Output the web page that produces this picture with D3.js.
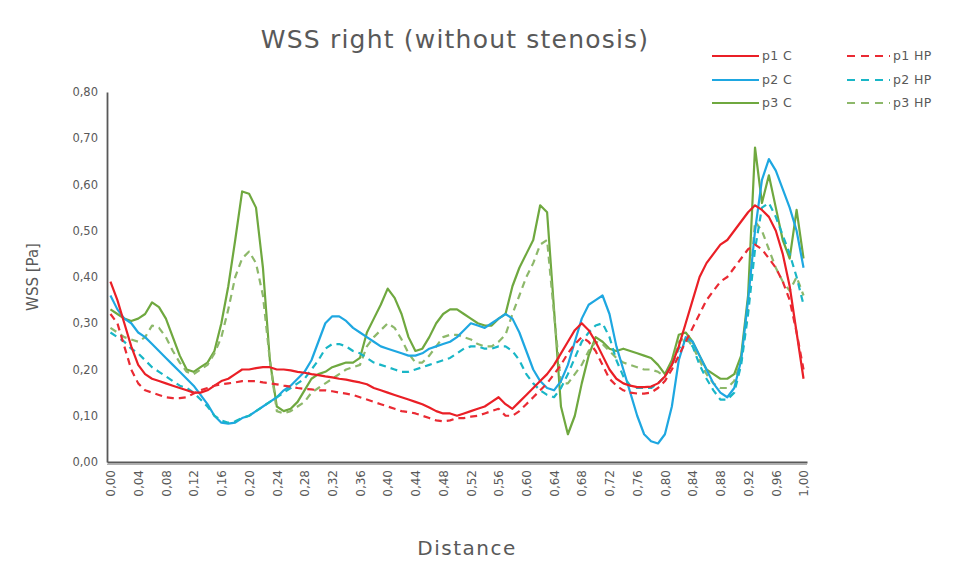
<!DOCTYPE html>
<html><head><meta charset="utf-8">
<script src="https://cdn.jsdelivr.net/npm/d3@7"></script>
<style>body{margin:0;background:#fff}svg{display:block}</style>
</head><body>
<svg id="c" width="971" height="562"></svg>
<script>
const distances = d3.range(101).map(i => +(i/100).toFixed(2));
const yTicks = [0,0.1,0.2,0.3,0.4,0.5,0.6,0.7,0.8];
const seriesNames = ["p1 C","p1 HP","p2 C","p2 HP","p3 C","p3 HP"];

const p1C = [0.39,0.35,0.30,0.25,0.21,0.19,0.18,0.175,0.17,0.165,0.16,0.155,0.15,0.15,0.155,0.165,0.175,0.18,0.19,0.20,
0.20,0.203,0.205,0.205,0.20,0.20,0.198,0.195,0.193,0.19,0.188,0.185,0.183,0.18,0.178,0.175,0.172,0.168,0.16,0.155,
0.15,0.145,0.14,0.135,0.13,0.125,0.118,0.11,0.105,0.105,0.10,0.105,0.11,0.115,0.12,0.13,0.14,0.125,0.115,0.13,
0.145,0.16,0.175,0.19,0.21,0.235,0.26,0.285,0.30,0.285,0.26,0.23,0.20,0.18,0.17,0.165,0.162,0.162,0.163,0.17,
0.185,0.21,0.25,0.30,0.35,0.40,0.43,0.45,0.47,0.48,0.50,0.52,0.54,0.555,0.545,0.53,0.50,0.45,0.38,0.28,0.18];
const p1HP = [0.32,0.30,0.25,0.20,0.17,0.155,0.15,0.145,0.14,0.138,0.138,0.14,0.148,0.155,0.16,0.165,0.168,0.17,0.172,0.175,
0.175,0.175,0.172,0.17,0.168,0.165,0.163,0.16,0.158,0.157,0.155,0.155,0.153,0.15,0.148,0.145,0.14,0.135,0.13,0.125,
0.12,0.115,0.11,0.108,0.105,0.10,0.095,0.09,0.088,0.09,0.095,0.095,0.098,0.10,0.105,0.11,0.115,0.10,0.10,0.11,
0.125,0.14,0.155,0.17,0.19,0.21,0.235,0.255,0.27,0.26,0.24,0.21,0.18,0.165,0.155,0.15,0.148,0.148,0.15,0.16,
0.175,0.20,0.23,0.26,0.29,0.32,0.35,0.37,0.39,0.40,0.42,0.44,0.46,0.47,0.46,0.44,0.42,0.39,0.35,0.28,0.20];
const p2C = [0.36,0.33,0.31,0.30,0.28,0.27,0.255,0.24,0.225,0.21,0.195,0.18,0.165,0.145,0.125,0.10,0.085,0.083,0.085,0.095,
0.10,0.11,0.12,0.13,0.14,0.155,0.165,0.18,0.195,0.22,0.26,0.30,0.315,0.315,0.305,0.29,0.28,0.27,0.26,0.25,
0.245,0.24,0.235,0.23,0.23,0.235,0.245,0.25,0.255,0.26,0.27,0.285,0.30,0.295,0.29,0.30,0.31,0.32,0.31,0.28,
0.24,0.20,0.175,0.16,0.155,0.175,0.21,0.26,0.31,0.34,0.35,0.36,0.32,0.25,0.20,0.15,0.10,0.06,0.045,0.04,
0.06,0.12,0.22,0.27,0.26,0.23,0.20,0.17,0.15,0.14,0.16,0.22,0.35,0.50,0.61,0.655,0.63,0.59,0.55,0.50,0.42];
const p2HP = [0.28,0.27,0.26,0.245,0.235,0.22,0.205,0.195,0.185,0.175,0.165,0.16,0.15,0.135,0.12,0.10,0.09,0.085,0.088,0.095,
0.10,0.11,0.12,0.13,0.14,0.15,0.16,0.17,0.18,0.20,0.22,0.245,0.255,0.255,0.25,0.24,0.235,0.225,0.215,0.21,
0.205,0.20,0.195,0.195,0.20,0.205,0.21,0.215,0.22,0.225,0.235,0.245,0.25,0.25,0.245,0.245,0.25,0.25,0.24,0.22,
0.19,0.17,0.155,0.145,0.14,0.16,0.19,0.225,0.26,0.28,0.295,0.30,0.27,0.22,0.185,0.165,0.16,0.16,0.16,0.17,
0.185,0.21,0.245,0.265,0.25,0.21,0.18,0.155,0.135,0.135,0.15,0.21,0.32,0.46,0.55,0.56,0.53,0.49,0.45,0.40,0.34];
const p3C = [0.33,0.32,0.31,0.305,0.31,0.32,0.345,0.335,0.31,0.27,0.23,0.20,0.195,0.205,0.215,0.24,0.30,0.38,0.48,0.585,
0.58,0.55,0.42,0.22,0.12,0.11,0.115,0.13,0.155,0.18,0.19,0.195,0.205,0.21,0.215,0.215,0.225,0.28,0.31,0.34,
0.375,0.355,0.32,0.27,0.24,0.245,0.27,0.30,0.32,0.33,0.33,0.32,0.31,0.30,0.295,0.295,0.31,0.32,0.38,0.42,
0.45,0.48,0.555,0.54,0.33,0.12,0.06,0.10,0.17,0.23,0.27,0.26,0.245,0.24,0.245,0.24,0.235,0.23,0.225,0.21,
0.19,0.22,0.275,0.28,0.26,0.23,0.20,0.19,0.18,0.18,0.19,0.23,0.36,0.68,0.56,0.62,0.55,0.48,0.44,0.545,0.44];
const p3HP = [0.29,0.28,0.27,0.265,0.26,0.27,0.295,0.29,0.27,0.24,0.215,0.195,0.19,0.20,0.21,0.235,0.27,0.33,0.40,0.44,
0.455,0.43,0.36,0.22,0.11,0.105,0.11,0.12,0.13,0.15,0.16,0.17,0.18,0.19,0.20,0.205,0.21,0.25,0.27,0.285,
0.30,0.29,0.265,0.235,0.215,0.215,0.23,0.25,0.27,0.275,0.275,0.27,0.265,0.255,0.25,0.25,0.26,0.275,0.32,0.36,
0.40,0.43,0.47,0.48,0.32,0.17,0.17,0.19,0.21,0.24,0.26,0.255,0.24,0.225,0.215,0.21,0.205,0.20,0.20,0.195,
0.185,0.21,0.26,0.27,0.25,0.22,0.19,0.17,0.16,0.16,0.175,0.22,0.33,0.52,0.50,0.46,0.42,0.39,0.37,0.40,0.36];

const seriesValues = [p1C,p1HP,p2C,p2HP,p3C,p3HP];
const seriesColors = ["#ea1f26","#ea2a33","#1ea7e1","#19b6c6","#6fa83f","#8db86a"];
const seriesDashed = [false,true,false,true,false,true];

const svg = d3.select("#c");
const font = "'DejaVu Sans', sans-serif";
const grey = "#595959";

const x = d3.scalePoint().domain(distances).range([107, 807]).padding(0.5);
const y = d3.scaleLinear().domain([0, 0.8]).range([462, 92]);
const fmt = d => d.toFixed(2).replace(".", ",");

// lines
const line = d3.line().x((d,i) => x(distances[i])).y(d => y(d));
const order = [4,5,2,3,0,1];
order.forEach(k => {
  svg.append("path").datum(seriesValues[k])
    .attr("fill","none").attr("stroke",seriesColors[k])
    .attr("stroke-width",2.2).attr("stroke-linejoin","round")
    .attr("stroke-dasharray",seriesDashed[k] ? "7,5" : null)
    .attr("d",line);
});

// y axis
const yAxis = d3.axisLeft(y).tickValues(yTicks).tickFormat(fmt).tickSize(0).tickPadding(9);
const gy = svg.append("g").attr("transform","translate(107,0)").call(yAxis);
gy.select(".domain").attr("stroke",grey).attr("stroke-width",1.8);
gy.selectAll("text").attr("font-family",font).attr("font-size",11.5).attr("fill",grey);

// x axis
const xAxis = d3.axisBottom(x).tickValues(distances.filter((d,i)=>i%4===0)).tickFormat(fmt).tickSize(0).tickPadding(0);
const gx = svg.append("g").attr("transform","translate(0,462)").call(xAxis);
gx.select(".domain").attr("stroke",grey).attr("stroke-width",2.2);
gx.selectAll("text").attr("font-family",font).attr("font-size",12).attr("fill",grey)
  .attr("transform","rotate(-90)").attr("text-anchor","end").attr("dy","0.35em").attr("x",-8).attr("y",0);
svg.append("line").attr("x1",107).attr("x2",807).attr("y1",464.5).attr("y2",464.5).attr("stroke","#b0b0b0").attr("stroke-width",1.2);

// titles
svg.append("text").attr("x",455).attr("y",48).attr("text-anchor","middle")
  .attr("font-family",font).attr("font-size",25).attr("letter-spacing",1.2).attr("fill",grey).text("WSS right (without stenosis)");
svg.append("text").attr("x",467).attr("y",555).attr("text-anchor","middle")
  .attr("font-family",font).attr("font-size",20).attr("letter-spacing",1.5).attr("fill",grey).text("Distance");
svg.append("text").attr("transform","translate(38,277) rotate(-90)").attr("text-anchor","middle")
  .attr("font-family",font).attr("font-size",15).attr("fill",grey).text("WSS [Pa]");

// legend
const legendRowY = [56,80,103];
seriesNames.forEach((name,k) => {
  const row = Math.floor(k/2), col = k%2;
  const lx = col === 0 ? 712 : 847;
  const ly = legendRowY[row];
  const len = col === 0 ? 47 : 43;
  svg.append("line").attr("x1",lx).attr("x2",lx+len).attr("y1",ly).attr("y2",ly)
    .attr("stroke",seriesColors[k]).attr("stroke-width",2.2)
    .attr("stroke-dasharray",seriesDashed[k] ? "8,6" : null);
  svg.append("text").attr("x",lx+len+3).attr("y",ly).attr("dy","0.35em")
    .attr("font-family",font).attr("font-size",12.5).attr("letter-spacing",0.4).attr("fill",grey).text(name);
});
</script>
</body></html>
